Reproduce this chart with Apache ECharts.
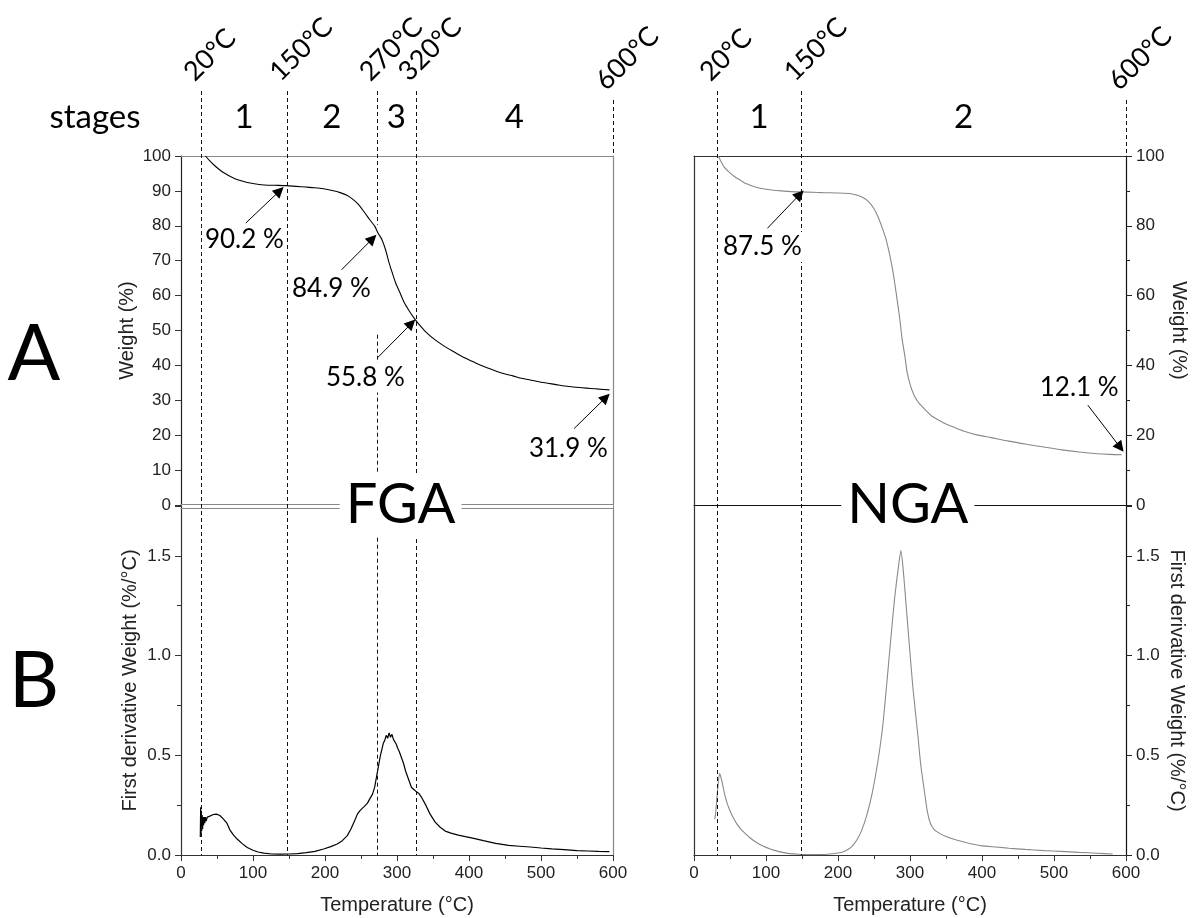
<!DOCTYPE html>
<html><head><meta charset="utf-8">
<script src="https://cdn.jsdelivr.net/npm/echarts@6/dist/echarts.min.js"></script>
<style>html,body{margin:0;padding:0;background:#fff}#main{width:1192px;height:918px}</style>
</head><body><div id="main"></div>
<script>
// ---------------- data ----------------
const boundsFGA = [28, 147, 272, 326, 600];
const boundsNGA = [32, 149, 600];
const boundLabelsFGA = ['20°C', '150°C', '270°C', '320°C', '600°C'];
const boundLabelsNGA = ['20°C', '150°C', '600°C'];
const stagesFGA = ['1', '2', '3', '4'];
const stagesNGA = ['1', '2'];

// FGA weight curve [T, weight %]
const fgaTga = [[34,100],[40,98.6],[47,97.2],[54,96.0],[62,94.9],[70,94.0],[80,93.1],[92,92.4],[104,92.0],[116,91.7],
 [130,91.6],[146,91.5],[160,91.3],[174,91.1],[186,90.9],[198,90.6],[210,90.1],[221,89.5],[231,88.7],[238,87.7],
 [246,86.2],[255,83.8],[262,81.8],[269,79.9],[274,77.8],[279,76.1],[284,73.2],[289,69.4],[293,66.8],[298,63.7],
 [304,60.9],[310,58.0],[317,55.6],[325,53.2],[333,51.2],[341,49.4],[353,47.3],[365,45.6],[377,44.1],[389,42.7],
 [401,41.5],[413,40.3],[425,39.3],[437,38.4],[449,37.6],[461,37.0],[473,36.3],[485,35.8],[497,35.3],[509,34.9],
 [521,34.5],[533,34.1],[545,33.8],[557,33.6],[569,33.4],[581,33.2],[595,33.0]];

// NGA weight curve
const ngaTga = [[34,100],[38,98.2],[42,96.8],[48,95.5],[57,94.0],[65,93.0],[72,92.1],[84,91.2],[96,90.6],[110,90.2],
 [121,90.0],[135,89.8],[150,89.7],[165,89.6],[179,89.5],[200,89.4],[218,89.2],[228,88.7],[238,87.7],[244,86.6],
 [250,84.9],[256,82.4],[262,79.1],[267,75.9],[272,71.5],[277,66.0],[282,59.0],[286,53.0],[289,47.6],[293,42.5],
 [296,38.0],[301,34.0],[306,31.3],[311,29.6],[316,28.4],[323,26.9],[330,25.5],[340,24.3],[350,23.2],[362,22.2],
 [374,21.2],[393,20.1],[413,19.3],[437,18.3],[462,17.4],[486,16.6],[511,15.8],[535,15.2],[560,14.7],[577,14.5],[594,14.4]];

// FGA first derivative
const fgaDtg = [[26.8,0.09],[27.3,0.24],[27.8,0.11],[28.3,0.22],[28.8,0.12],[29.4,0.20],[30,0.13],[30.7,0.19],[31.4,0.15],[32.2,0.19],
 [33,0.16],[34,0.19],[35,0.17],[36.5,0.19],[38,0.185],[40,0.195],[42,0.198],[45,0.203],[49,0.205],[54,0.198],
 [59,0.18],[64,0.158],[68,0.125],[73,0.1],[78,0.08],[85,0.057],[92,0.038],[100,0.024],[107,0.015],[115,0.009],
 [126,0.005],[138,0.004],[150,0.005],[162,0.007],[174,0.012],[186,0.018],[198,0.03],[208,0.042],[217,0.055],[224,0.072],
 [231,0.097],[236,0.13],[241,0.17],[245,0.205],[248,0.22],[252,0.235],[255,0.245],[259,0.26],[262,0.28],[266,0.305],
 [269,0.34],[272,0.40],[274,0.44],[277,0.50],[279,0.53],[281,0.56],[283,0.575],[285,0.60],[287,0.585],[289,0.612],
 [291,0.59],[293,0.605],[295,0.58],[297,0.575],[299,0.555],[301,0.535],[303,0.52],[306,0.49],[309,0.46],[312,0.42],
 [316,0.38],[320,0.34],[323,0.33],[326,0.32],[330,0.31],[334,0.29],[340,0.25],[346,0.205],[353,0.165],[360,0.139],
 [367,0.12],[375,0.11],[385,0.1],[395,0.092],[405,0.085],[420,0.072],[437,0.058],[455,0.048],[470,0.044],[485,0.04],
 [500,0.035],[515,0.031],[532,0.027],[550,0.022],[565,0.02],[580,0.018],[595,0.017]];

// NGA first derivative
const ngaDtg = [[28.8,0.18],[30.2,0.215],[32.7,0.323],[35.6,0.41],[38.5,0.374],[42.4,0.307],[46,0.26],[49.8,0.223],[54,0.19],[59.5,0.156],
 [65,0.13],[71.7,0.106],[78,0.085],[86.3,0.064],[95,0.046],[105.9,0.030],[118,0.017],[130.2,0.008],[145,0.004],[159.5,0.002],
 [175,0.002],[188.8,0.005],[200,0.01],[208.3,0.018],[215,0.03],[220.5,0.047],[227,0.08],[232.7,0.122],[240,0.2],[247.3,0.307],
 [255,0.46],[262,0.642],[268,0.87],[274,1.111],[279,1.3],[284,1.446],[287.3,1.527],[290.2,1.446],[294,1.28],[298.5,1.078],
 [304,0.84],[310.7,0.608],[315,0.45],[320.5,0.307],[324,0.22],[327.8,0.164],[333,0.13],[340,0.111],[350,0.093],[364.4,0.075],
 [380,0.06],[398.5,0.047],[420,0.04],[437.6,0.034],[460,0.028],[486.3,0.022],[510,0.018],[535,0.013],[560,0.009],[581.5,0.005]];

// annotations: label, arrow start, arrow tip, text position (data coords)
const notesFGA = [
  {text: '90.2 %', from: [90, 80.8],  to: [137, 90.0], at: [88, 76]},
  {text: '84.9 %', from: [223, 67.4], to: [266, 76.3], at: [209, 62]},
  {text: '55.8 %', from: [273, 42.2], to: [320, 52.0], at: [256, 36.5]},
  {text: '31.9 %', from: [546, 21.9], to: [590, 30.8], at: [538, 16.2]}
];
const notesNGA = [
  {text: '87.5 %', from: [102, 79.3], to: [147, 89.0], at: [95, 73.9]},
  {text: '12.1 %', from: [547, 28.6], to: [592, 16.5], at: [535, 33.6]}
];

// ---------------- chart ----------------
const LAB = {color: '#222', fontFamily: 'Liberation Sans, Arial', fontSize: 17};
const NAME = {color: '#222', fontFamily: 'Liberation Sans, Arial', fontSize: 20};
const ANN = 'Lato';

function lineOnly(extra, color) {
  return Object.assign({
    type: 'value', min: 0, max: 600,
    axisLine: {show: true, onZero: false, lineStyle: {color: color, width: 1.2}},
    axisTick: {show: false}, axisLabel: {show: false}, splitLine: {show: false}
  }, extra);
}
function yLineOnly(extra, color, max) {
  return Object.assign({
    type: 'value', min: 0, max: max,
    axisLine: {show: true, onZero: false, lineStyle: {color: color, width: 1.2}},
    axisTick: {show: false}, axisLabel: {show: false}, splitLine: {show: false}
  }, extra);
}

function arrows(notes) {
  return {
    silent: true, symbol: ['none', 'triangle'], symbolSize: 11,
    label: {show: false}, emphasis: {disabled: true},
    lineStyle: {color: '#000', width: 1, type: 'solid'},
    data: notes.map(n => [{coord: n.from}, {coord: n.to}])
  };
}
function tempAxis(grid) {
  return {gridIndex: grid, type: 'value', min: 0, max: 600, interval: 100, position: 'bottom',
    axisLine: {show: true, onZero: false, lineStyle: {color: '#333', width: 1.2}},
    axisTick: {show: true, length: 6, lineStyle: {color: '#333'}},
    minorTick: {show: true, splitNumber: 2, length: 4, lineStyle: {color: '#333'}},
    axisLabel: Object.assign({margin: 10}, LAB), splitLine: {show: false},
    name: 'Temperature (°C)', nameLocation: 'middle', nameGap: 40, nameTextStyle: NAME};
}

const option = {
  animation: false,
  backgroundColor: '#fff',
  grid: [
    {left: 181, top: 156, width: 432, height: 349},
    {left: 181, top: 506, width: 432, height: 349},
    {left: 694, top: 156, width: 432, height: 349},
    {left: 694, top: 506, width: 432, height: 349}
  ],
  xAxis: [
    lineOnly({gridIndex: 0, position: 'bottom', offset: -1}, '#888'),
    lineOnly({gridIndex: 0, position: 'top'}, '#888'),
    tempAxis(1),
    lineOnly({gridIndex: 1, position: 'top', offset: -2}, '#888'),
    lineOnly({gridIndex: 2, position: 'bottom'}, '#111'),
    lineOnly({gridIndex: 2, position: 'top'}, '#333'),
    tempAxis(3),
    lineOnly({gridIndex: 3, position: 'top', axisLine: {show: false}}, '#333')
  ],
  yAxis: [
    {gridIndex: 0, type: 'value', min: 0, max: 100, interval: 10, position: 'left',
     axisLine: {show: true, onZero: false, lineStyle: {color: '#222', width: 1.2}},
     axisTick: {show: true, length: 6, lineStyle: {color: '#333'}},
     axisLabel: Object.assign({margin: 10}, LAB), splitLine: {show: false},
     name: 'Weight (%)', nameLocation: 'middle', nameGap: 44, nameRotate: 90, nameTextStyle: NAME},
    yLineOnly({gridIndex: 0, position: 'right'}, '#888', 100),
    {gridIndex: 1, type: 'value', min: 0, max: 1.75, interval: 0.5, position: 'left',
     axisLine: {show: true, onZero: false, lineStyle: {color: '#333', width: 1.2}},
     axisTick: {show: true, length: 6, lineStyle: {color: '#333'}},
     minorTick: {show: true, splitNumber: 2, length: 4, lineStyle: {color: '#333'}},
     axisLabel: Object.assign({margin: 10, showMaxLabel: false, formatter: v => v.toFixed(1)}, LAB), splitLine: {show: false},
     name: 'First derivative Weight (%/°C)', nameLocation: 'middle', nameGap: 41, nameRotate: 90, nameTextStyle: NAME},
    yLineOnly({gridIndex: 1, position: 'right'}, '#888', 1.75),
    yLineOnly({gridIndex: 2, position: 'left'}, '#333', 100),
    {gridIndex: 2, type: 'value', min: 0, max: 100, interval: 20, position: 'right',
     axisLine: {show: true, onZero: false, lineStyle: {color: '#111', width: 1.2}},
     axisTick: {show: true, length: 6, lineStyle: {color: '#222'}},
     minorTick: {show: true, splitNumber: 2, length: 4, lineStyle: {color: '#222'}},
     axisLabel: Object.assign({margin: 10}, LAB), splitLine: {show: false},
     name: 'Weight (%)', nameLocation: 'middle', nameGap: 41, nameRotate: -90, nameTextStyle: NAME},
    yLineOnly({gridIndex: 3, position: 'left'}, '#333', 1.75),
    {gridIndex: 3, type: 'value', min: 0, max: 1.75, interval: 0.5, position: 'right',
     axisLine: {show: true, onZero: false, lineStyle: {color: '#111', width: 1.2}},
     axisTick: {show: true, length: 6, lineStyle: {color: '#222'}},
     minorTick: {show: true, splitNumber: 2, length: 4, lineStyle: {color: '#222'}},
     axisLabel: Object.assign({margin: 10, showMaxLabel: false, formatter: v => v.toFixed(1)}, LAB), splitLine: {show: false},
     name: 'First derivative Weight (%/°C)', nameLocation: 'middle', nameGap: 41, nameRotate: -90, nameTextStyle: NAME}
  ],
  series: [
    {type: 'line', name: 'FGA weight', xAxisIndex: 0, yAxisIndex: 0, data: fgaTga, showSymbol: false, smooth: 0.25,
     lineStyle: {color: '#000', width: 1.1}, itemStyle: {color: '#000'}, z: 3, markLine: arrows(notesFGA)},
    {type: 'line', name: 'FGA DTG', xAxisIndex: 2, yAxisIndex: 2, data: fgaDtg, showSymbol: false, smooth: false,
     lineStyle: {color: '#000', width: 1.2}, itemStyle: {color: '#000'}, z: 3},
    {type: 'line', name: 'NGA weight', xAxisIndex: 4, yAxisIndex: 5, data: ngaTga, showSymbol: false, smooth: 0.25,
     lineStyle: {color: '#888', width: 1.1}, itemStyle: {color: '#888'}, z: 3, markLine: arrows(notesNGA)},
    {type: 'line', name: 'NGA DTG', xAxisIndex: 6, yAxisIndex: 7, data: ngaDtg, showSymbol: false, smooth: 0.2,
     lineStyle: {color: '#8a8a8a', width: 1.1}, itemStyle: {color: '#888'}, z: 3}
  ]
};

const chart = echarts.init(document.getElementById('main'), null, {renderer: 'canvas'});
chart.setOption(option);

// ---------------- annotations (positions derived from the axes) ----------------
const P = (s, x, y) => chart.convertToPixel({seriesIndex: s}, [x, y]);
const g = [];
const bottomY = P(1, 0, 0)[1];
function vline(x, y1, y2) {
  const xx = Math.round(x) + 0.5;
  g.push({type: 'line', silent: true, z: 90,
    shape: {x1: xx, y1: y1, x2: xx, y2: y2},
    style: {stroke: '#111', lineWidth: 1, lineDash: [4, 3]}});
}
function txt(x, y, text, size, opts) {
  g.push(Object.assign({type: 'text', silent: true, z: 100, x: x, y: y,
    style: Object.assign({text: text, fontSize: size, fontFamily: ANN, fill: '#000',
      align: 'center', verticalAlign: 'middle'}, (opts && opts.style) || {})},
    (opts && opts.el) || {}));
}

function bounds(seriesTop, list, labels, stages, gapFor) {
  const xs = list.map(t => P(seriesTop, t, 0)[0]);
  xs.forEach((x, i) => {
    const last = i === list.length - 1;
    const top = last ? 100 : 91;
    if (last) {
      vline(x, top, P(seriesTop, 0, 100)[1]);
    } else if (gapFor && gapFor.index === i) {
      vline(x, top, P(seriesTop, 0, gapFor.from)[1]);
      vline(x, P(seriesTop, 0, gapFor.to)[1], bottomY);
    } else {
      vline(x, top, bottomY);
    }
    g.push({type: 'text', silent: true, z: 100, x: x - 3, y: top - 5, rotation: Math.PI / 4,
      style: {text: labels[i], fontSize: 27, fontFamily: ANN, fill: '#000', align: 'left', verticalAlign: 'bottom'}});
  });
  stages.forEach((s, i) => txt((xs[i] + xs[i + 1]) / 2, 117, s, 33));
}
bounds(0, boundsFGA, boundLabelsFGA, stagesFGA, {index: 2, from: 80.3, to: 48.8});
bounds(2, boundsNGA, boundLabelsNGA, stagesNGA, null);

notesFGA.forEach(n => { const p = P(0, n.at[0], n.at[1]);
  txt(p[0], p[1], n.text, 26, {style: {backgroundColor: '#fff', padding: [2, 3]}}); });
notesNGA.forEach(n => { const p = P(2, n.at[0], n.at[1]);
  txt(p[0], p[1], n.text, 26, {style: {backgroundColor: '#fff', padding: [2, 3]}}); });

// sample names on the panel junction
const pf = P(0, 305, 0), pn = P(2, 297, 0);
txt(pf[0], pf[1], 'FGA', 56, {style: {backgroundColor: '#fff', padding: [4, 6]}});
txt(pn[0], pn[1], 'NGA', 56, {style: {backgroundColor: '#fff', padding: [4, 6]}});

// row labels and header
txt(95, 117, 'stages', 33);
txt(34, 355, 'A', 78);
txt(34, 682, 'B', 78);

chart.setOption({graphic: g});
</script></body></html>
